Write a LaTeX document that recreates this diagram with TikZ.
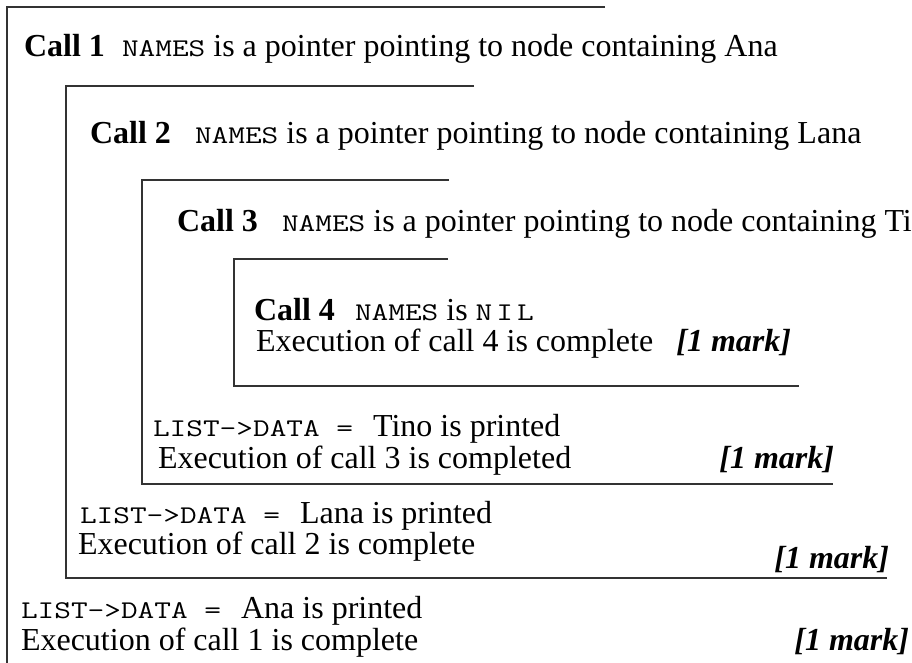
\documentclass[tikz,border=0pt]{standalone}
\usepackage{fontspec}
\setmainfont{Liberation Serif}
\newfontfamily\courfont{Latin Modern Mono}[FakeStretch=1.27]
\tikzset{
  frame/.style={draw=black!80, line width=1.3pt},
  txt/.style={anchor=base west, inner sep=0pt, outer sep=0pt, font=\fontsize{32}{38}\selectfont},
  marktxt/.style={anchor=base east, inner sep=0pt, outer sep=0pt, font=\fontsize{32}{38}\selectfont\bfseries\itshape}
}
\newcommand{\cll}[1]{\textbf{Call #1}}
\newcommand{\mon}[1]{{\fontsize{25.5}{30}\selectfont\courfont #1}}
\begin{document}
\begin{tikzpicture}[x=1pt,y=-1pt]
\useasboundingbox (0,0) rectangle (912,663);
% frames
\coordinate (b1a) at (605,7); \coordinate (b1b) at (7,7); \coordinate (b1c) at (7,663);
\coordinate (b2a) at (474,86); \coordinate (b2b) at (66,86); \coordinate (b2c) at (66,578); \coordinate (b2d) at (887,578);
\coordinate (b3a) at (449,180); \coordinate (b3b) at (142,180); \coordinate (b3c) at (142,484); \coordinate (b3d) at (833,484);
\coordinate (b4a) at (448,259); \coordinate (b4b) at (234,259); \coordinate (b4c) at (234,386); \coordinate (b4d) at (799,386);
\draw[frame] (b1a) -- (b1b) -- (b1c);
\draw[frame] (b2a) -- (b2b) -- (b2c) -- (b2d);
\draw[frame] (b3a) -- (b3b) -- (b3c) -- (b3d);
\draw[frame] (b4a) -- (b4b) -- (b4c) -- (b4d);
% call lines
\node[txt] (c1) at (24,57) {\cll{1}};
\node[txt] (n1) at (122,57) {\mon{NAMES} is a pointer pointing to node containing Ana};
\node[txt] (c2) at (90,144) {\cll{2}};
\node[txt] (n2) at (195,144) {\mon{NAMES} is a pointer pointing to node containing Lana};
\node[txt] (c3) at (177,231) {\cll{3}};
\node[txt] (n3) at (282,231) {\mon{NAMES} is a pointer pointing to node containing Tino};
\node[txt] (c4) at (254,320) {\cll{4}};
\node[txt] (n4) at (355,320) {\mon{NAMES} is \mon{N\hspace{4pt}I\hspace{4pt}L}};
\node[txt] (e4) at (256,351) {Execution of call 4 is complete};
\node[marktxt] (m4) at (791,351) {[1 mark]};
% returns
\node[txt] (l3) at (153,436) {\mon{LIST->DATA =}\hspace{20pt}Tino is printed};
\node[txt] (e3) at (158,468) {Execution of call 3 is completed};
\node[marktxt] (m3) at (834,468) {[1 mark]};
\node[txt] (l2) at (80,523) {\mon{LIST->DATA =}\hspace{20pt}Lana is printed};
\node[txt] (e2) at (78,554) {Execution of call 2 is complete};
\node[marktxt] (m2) at (889,568) {[1 mark]};
\node[txt] (l1) at (21,618) {\mon{LIST->DATA =}\hspace{20pt}Ana is printed};
\node[txt] (e1) at (21,650) {Execution of call 1 is complete};
\node[marktxt] (m1) at (909,650) {[1 mark]};
\end{tikzpicture}
\end{document}
